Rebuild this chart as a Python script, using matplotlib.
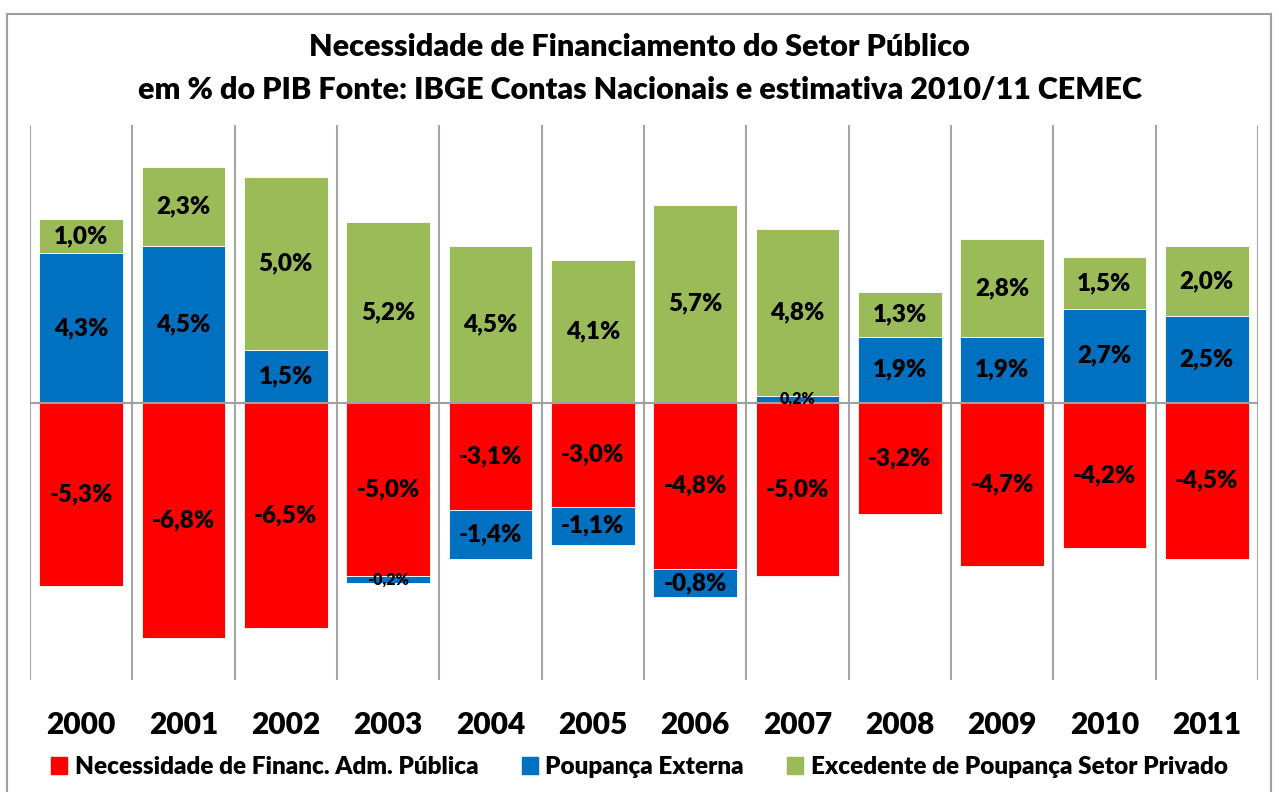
import numpy as np
import matplotlib.pyplot as plt
from matplotlib.patches import Rectangle, Patch

plt.rcParams['font.family'] = ['Lato', 'DejaVu Sans']

# Dados (% do PIB)
anos = ['2000', '2001', '2002', '2003', '2004', '2005',
        '2006', '2007', '2008', '2009', '2010', '2011']
adm_publica = [-5.3, -6.8, -6.5, -5.0, -3.1, -3.0, -4.8, -5.0, -3.2, -4.7, -4.2, -4.5]
poupanca_externa = [4.3, 4.5, 1.5, -0.2, -1.4, -1.1, -0.8, 0.2, 1.9, 1.9, 2.7, 2.5]
setor_privado = [1.0, 2.3, 5.0, 5.2, 4.5, 4.1, 5.7, 4.8, 1.3, 2.8, 1.5, 2.0]

nomes = ['Necessidade de Financ. Adm. Pública', 'Poupança Externa',
         'Excedente de Poupança Setor Privado']
cores = ['#FF0000', '#0070C0', '#9BBB59']

x = np.arange(len(anos))
red = np.array(adm_publica)
blue = np.array(poupanca_externa)
green = np.array(setor_privado)

# bases do empilhamento (positivos acima de zero, negativos abaixo)
base_blue = np.where(blue >= 0, 0, red)
base_green = np.where(blue >= 0, blue, 0)

peso = 'heavy'

fig = plt.figure(figsize=(12.79, 7.92), dpi=100)
ax = fig.add_axes([30 / 1279, 1 - 680 / 792, 1228 / 1279, 555 / 792])

largura = 0.82
ax.bar(x, red, largura, color=cores[0], edgecolor='white', linewidth=0.6, zorder=3)
ax.bar(x, blue, largura, bottom=base_blue, color=cores[1], edgecolor='white', linewidth=0.6, zorder=3)
ax.bar(x, green, largura, bottom=base_green, color=cores[2], edgecolor='white', linewidth=0.6, zorder=3)


def rotular(valores, bases):
    for xi, v, b in zip(x, valores, bases):
        texto = f"{v:.1f}%".replace('.', ',')
        tam = 11.5 if abs(v) < 0.5 else 17.5
        ax.text(xi, b + v / 2, texto, ha='center', va='center',
                fontsize=tam, fontweight=peso, color='black', zorder=5)


rotular(red, np.zeros_like(red))
rotular(blue, base_blue)
rotular(green, base_green)

ax.set_xlim(-0.5, len(anos) - 0.5)
ax.set_ylim(-8, 8)
ax.axhline(0, color='#A0A0A0', lw=1.5, zorder=4)

ax.set_xticks(x)
ax.set_xticklabels(anos, fontsize=21.5, fontweight=peso)
ax.set_xticks(np.arange(-0.5, len(anos), 1), minor=True)
ax.tick_params(axis='x', which='both', length=0, pad=22)
ax.grid(True, which='minor', axis='x', color='#A6A6A6', lw=1.5, zorder=0)
ax.set_yticks([])
for s in ax.spines.values():
    s.set_visible(False)

fig.text(0.5, 1 - 47 / 792, 'Necessidade de Financiamento do Setor Público',
         ha='center', va='center', fontsize=22, fontweight=peso)
fig.text(0.5, 1 - 90 / 792, 'em % do PIB Fonte: IBGE Contas Nacionais e estimativa 2010/11 CEMEC',
         ha='center', va='center', fontsize=22, fontweight=peso)

handles = [Patch(color=c) for c in cores]
fig.legend(handles, nomes, loc='center', bbox_to_anchor=(0.5, 1 - 767 / 792), ncol=3,
           frameon=False, prop={'size': 17.5, 'weight': peso},
           handlelength=0.65, handleheight=0.65, handletextpad=0.3, columnspacing=1.8)

# moldura externa
fig.patches.append(Rectangle((7 / 1279, -0.01), 1264 / 1279, 1 - 14 / 792 + 0.01,
                             transform=fig.transFigure, fill=False,
                             edgecolor='#A0A0A0', lw=1.5))

fig.savefig('out.png', dpi=100)
